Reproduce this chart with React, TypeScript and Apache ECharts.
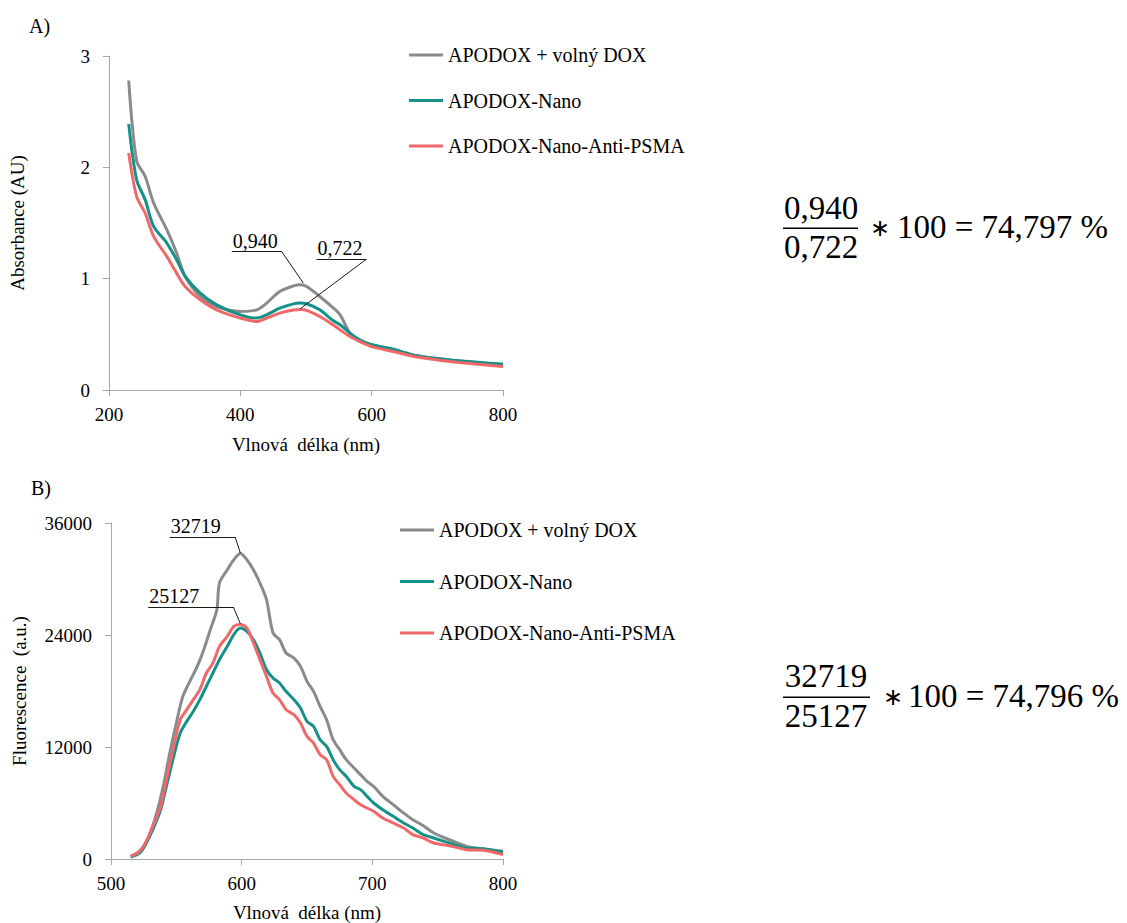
import React, { useEffect, useRef } from "react";
import * as echarts from "echarts";

const SERIES_NAMES = ["APODOX + volný DOX", "APODOX-Nano", "APODOX-Nano-Anti-PSMA"];
const COLORS = ["#8a8a8a", "#169188", "#f0686a"];

// Panel A – absorbance
const absWavelength = [230, 242, 255, 268, 288, 303, 316, 339, 364, 400, 425, 440, 460, 481, 491, 501, 521, 541, 552, 567, 582, 600, 633, 669, 719, 800];
const absFreeDox = [2.78, 2.06, 1.92, 1.68, 1.44, 1.23, 1.02, 0.84, 0.75, 0.705, 0.72, 0.78, 0.885, 0.935, 0.945, 0.93, 0.84, 0.74, 0.675, 0.51, 0.436, 0.406, 0.36, 0.307, 0.27, 0.227];
const absNano = [2.39, 1.89, 1.71, 1.47, 1.32, 1.17, 1.02, 0.87, 0.765, 0.675, 0.646, 0.675, 0.735, 0.774, 0.782, 0.775, 0.72, 0.624, 0.586, 0.51, 0.45, 0.406, 0.367, 0.307, 0.27, 0.233];
const absNanoPsma = [2.13, 1.74, 1.59, 1.38, 1.2, 1.05, 0.93, 0.81, 0.72, 0.646, 0.615, 0.646, 0.69, 0.718, 0.724, 0.715, 0.66, 0.586, 0.54, 0.48, 0.436, 0.39, 0.346, 0.296, 0.257, 0.212];

// Panel B – fluorescence
const fluWavelengthFree = [515, 520, 525, 530, 535, 540, 545, 550, 555, 561, 566, 571, 576, 581, 583, 589, 594, 599, 604, 609, 614, 619, 624, 629, 634, 640, 645, 650, 655, 660, 665, 670, 675, 680, 686, 691, 696, 701, 708, 716, 724, 731, 739, 747, 759, 772, 785, 800];
const fluFreeDox = [286, 643, 1357, 2785, 4928, 7785, 11356, 14570, 17427, 19213, 20641, 22426, 24569, 26711, 29568, 30997, 32068, 32719, 32068, 30997, 29568, 27783, 24212, 23497, 22069, 21533, 20641, 19034, 17962, 16355, 14927, 12784, 11713, 10642, 9749, 9035, 8321, 7785, 6714, 5821, 4928, 4214, 3571, 2785, 2071, 1357, 1071, 821];
const fluWavelengthNano = [515, 522, 527, 532, 538, 543, 548, 553, 558, 563, 568, 573, 578, 583, 589, 594, 599, 604, 609, 614, 619, 624, 629, 634, 640, 645, 650, 655, 660, 665, 670, 675, 680, 686, 691, 696, 701, 708, 716, 724, 731, 739, 747, 759, 772, 785, 800];
const fluNano = [214, 643, 1714, 3142, 5285, 8142, 11000, 13500, 14748, 15820, 17070, 18498, 19927, 21355, 22784, 24033, 24748, 24390, 23497, 22069, 20284, 19391, 18855, 17962, 17070, 16177, 14748, 14213, 12784, 12070, 10642, 9570, 8856, 7785, 7428, 6714, 5999, 5285, 4571, 3857, 3321, 2607, 2250, 1714, 1178, 1107, 714];
const fluNanoPsma = [286, 821, 1893, 3500, 5642, 8856, 12070, 14927, 15998, 17070, 18141, 19927, 20998, 22784, 23855, 24926, 25127, 24748, 23140, 21355, 19570, 17784, 17070, 15998, 15463, 14570, 13142, 12427, 11177, 10642, 8856, 7963, 7070, 6356, 5821, 5464, 5107, 4392, 3857, 3321, 2607, 2250, 1714, 1428, 1000, 928, 464];

// Annotations (data coordinates)
const absPeakLabels = ["0,940", "0,722"];
const absLabelLines = [
  { start: [387, 1.243], end: [463, 1.243], tip: [496, 0.96] },
  { start: [516, 1.175], end: [592, 1.175], tip: [491, 0.729] },
];
const fluPeakLabels = ["32719", "25127"];
const fluLabelLines = [
  { start: [545, 34499], end: [595, 34499], tip: [599, 32785] },
  { start: [528.5, 27000], end: [593.6, 27000], tip: [599, 25210] },
];

const FONT = "Liberation Serif, serif";

const zip = (xs: number[], ys: number[]) => xs.map((x, i) => [x, ys[i]]);

function buildMarkLine(labels: string[], lines: { start: number[]; end: number[]; tip: number[] }[]) {
  const data: any[] = [];
  lines.forEach((l, i) => {
    data.push([
      {
        coord: l.start,
        label: {
          show: true,
          formatter: labels[i],
          position: "insideStartTop",
          distance: 1,
          fontSize: 20,
          color: "#000",
          fontFamily: FONT,
        },
      },
      { coord: l.end },
    ]);
    data.push([{ coord: l.end, label: { show: false } }, { coord: l.tip }]);
  });
  return {
    silent: true,
    animation: false,
    symbol: ["none", "none"],
    lineStyle: { color: "#1a1a1a", width: 1, type: "solid" },
    label: { show: false },
    emphasis: { disabled: true },
    data,
  };
}

function axisCommon() {
  return {
    axisLine: { show: true, lineStyle: { color: "#a6a6a6", width: 1 } },
    axisTick: { show: true, length: 6, lineStyle: { color: "#a6a6a6" } },
    splitLine: { show: false },
    nameLocation: "middle" as const,
    nameTextStyle: { fontSize: 19, color: "#000", fontFamily: FONT },
  };
}

const labelStyle = (margin: number) => ({
  fontSize: 19,
  color: "#000",
  margin,
  fontFamily: FONT,
  formatter: (v: number) => String(v),
});

export default function App() {
  const ref = useRef<HTMLDivElement>(null);
  useEffect(() => {
    if (!ref.current) return;
    const chart = echarts.init(ref.current, undefined, { renderer: "svg" });
    const absData = [absFreeDox, absNano, absNanoPsma];
    const fluData = [zip(fluWavelengthFree, fluFreeDox), zip(fluWavelengthNano, fluNano), zip(fluWavelengthNano, fluNanoPsma)];
    const series: any[] = [];
    SERIES_NAMES.forEach((name, i) => {
      series.push({
        type: "line",
        name,
        xAxisIndex: 0,
        yAxisIndex: 0,
        data: zip(absWavelength, absData[i]),
        symbol: "none",
        showSymbol: false,
        smooth: 0.3,
        lineStyle: { width: 3, color: COLORS[i] },
        itemStyle: { color: COLORS[i] },
        markLine: i === 0 ? buildMarkLine(absPeakLabels, absLabelLines) : undefined,
      });
    });
    SERIES_NAMES.forEach((name, i) => {
      series.push({
        type: "line",
        name,
        xAxisIndex: 1,
        yAxisIndex: 1,
        data: fluData[i],
        symbol: "none",
        showSymbol: false,
        smooth: 0.3,
        lineStyle: { width: 3, color: COLORS[i] },
        itemStyle: { color: COLORS[i] },
        markLine: i === 0 ? buildMarkLine(fluPeakLabels, fluLabelLines) : undefined,
      });
    });

    const txt = (text: string, x: number, y: number, align: string, size = 33) => ({
      type: "text",
      x,
      y,
      style: { text, fontSize: size, fontFamily: FONT, textAlign: align, textVerticalAlign: "middle", fill: "#000" },
    });
    const legendBase = {
      orient: "vertical",
      padding: 0,
      itemWidth: 34,
      itemHeight: 3,
      icon: "rect",
      selectedMode: false,
      textStyle: { fontSize: 20, color: "#000", fontFamily: FONT },
      data: SERIES_NAMES,
    };
    const option: any = {
      animation: false,
      title: [
        { text: "A)", left: 24, top: 11, textStyle: { fontSize: 20, fontWeight: "normal", color: "#000", fontFamily: FONT } },
        { text: "B)", left: 26, top: 473, textStyle: { fontSize: 20, fontWeight: "normal", color: "#000", fontFamily: FONT } },
      ],
      legend: [
        { ...legendBase, left: 409, top: 45, itemGap: 25.5 },
        { ...legendBase, left: 400, top: 520, itemGap: 31.5 },
      ],
      grid: [
        { left: 109, top: 56, width: 394, height: 334 },
        { left: 111, top: 523, width: 392, height: 336 },
      ],
      xAxis: [
        {
          ...axisCommon(),
          type: "value",
          gridIndex: 0,
          min: 200,
          max: 800,
          interval: 200,
          name: "Vlnová  délka (nm)",
          nameGap: 45,
          axisLabel: labelStyle(15),
        },
        {
          ...axisCommon(),
          type: "value",
          gridIndex: 1,
          min: 500,
          max: 800,
          interval: 100,
          name: "Vlnová  délka (nm)",
          nameGap: 44,
          axisLabel: labelStyle(15),
        },
      ],
      yAxis: [
        {
          ...axisCommon(),
          type: "value",
          gridIndex: 0,
          min: 0,
          max: 3,
          interval: 1,
          name: "Absorbance (AU)",
          nameGap: 82,
          axisLabel: labelStyle(19),
        },
        {
          ...axisCommon(),
          type: "value",
          gridIndex: 1,
          min: 0,
          max: 36000,
          interval: 12000,
          name: "Fluorescence  (a.u.)",
          nameGap: 82,
          axisLabel: labelStyle(19),
        },
      ],
      graphic: [
        txt("0,940", 821, 208, "center"),
        { type: "rect", shape: { x: 783, y: 227.5, width: 75, height: 1.5 }, style: { fill: "#000" } },
        txt("0,722", 821, 247, "center"),
        txt("∗", 880, 228, "center", 24),
        txt("100 = 74,797 %", 897, 227, "left"),
        txt("32719", 826, 676, "center"),
        { type: "rect", shape: { x: 783, y: 696.5, width: 87, height: 1.5 }, style: { fill: "#000" } },
        txt("25127", 826, 716, "center"),
        txt("∗", 893, 697, "center", 24),
        txt("100 = 74,796 %", 908, 696, "left"),
      ],
      series,
    };
    chart.setOption(option);
    return () => chart.dispose();
  }, []);
  return (
    <div
      ref={ref}
      style={{ position: "fixed", left: 0, top: 0, width: 1127, height: 923, background: "#fff" }}
    />
  );
}
